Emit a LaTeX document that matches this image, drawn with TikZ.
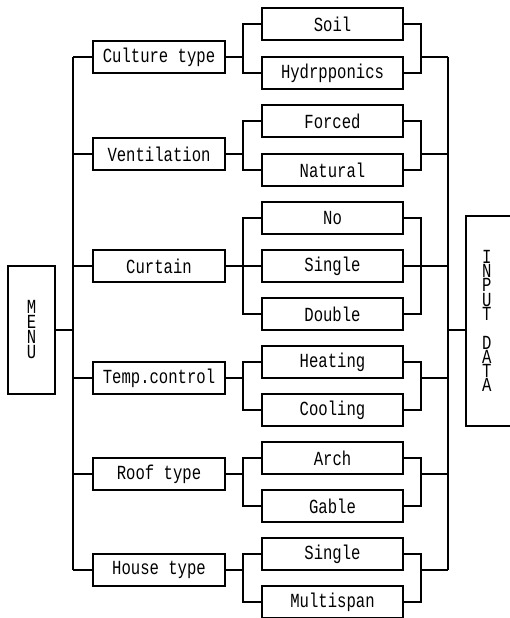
\documentclass[tikz,border=0pt]{standalone}
\usepackage{fontspec}
\newfontfamily\chartfont[FakeStretch=0.78]{Liberation Mono}
\begin{document}
\begin{tikzpicture}[x=1pt,y=-1pt,line width=1.1pt,
	every node/.style={font=\chartfont\fontsize{20}{15}\selectfont,inner sep=0pt},
	itembox/.style={draw,minimum width=132,minimum height=32},
	optbox/.style={draw,minimum width=141,minimum height=32},
	sidebox/.style={draw,align=center}]
	\useasboundingbox (0,0) rectangle (510,618);
	\coordinate (ltrunk) at (73,0);
	\coordinate (lbrace) at (243,0);
	\coordinate (rbrace) at (421,0);
	\coordinate (rtrunk) at (448,0);
	\node[sidebox,minimum width=47,minimum height=128] (menu) at (31.5,330) {M\\E\\N\\U};
	\node[draw,minimum height=210,text width=32,inner xsep=16,align=left,
		font=\chartfont\fontsize{20}{14.3}\selectfont] (input) at (498,321)
		{I\\N\\P\\U\\T\\\mbox{}\\D\\A\\T\\A};
	\node[itembox] (culture) at (159,57) {Culture type};
	\node[itembox] (ventil) at (159,154) {Ventilation};
	\node[itembox] (curtain) at (159,266) {Curtain};
	\node[itembox] (temp) at (159,378) {Temp.control};
	\node[itembox] (roof) at (159,474) {Roof type};
	\node[itembox] (house) at (159,570) {House type};
	\node[optbox] (soil) at (332.5,24) {Soil};
	\node[optbox] (hydro) at (332.5,73) {Hydrpponics};
	\node[optbox] (forced) at (332.5,121) {Forced};
	\node[optbox] (natural) at (332.5,170) {Natural};
	\node[optbox] (no) at (332.5,218) {No};
	\node[optbox] (single) at (332.5,266) {Single};
	\node[optbox] (double) at (332.5,314) {Double};
	\node[optbox] (heating) at (332.5,362) {Heating};
	\node[optbox] (cooling) at (332.5,410) {Cooling};
	\node[optbox] (arch) at (332.5,458) {Arch};
	\node[optbox] (gable) at (332.5,506) {Gable};
	\node[optbox] (hsingle) at (332.5,554) {Single};
	\node[optbox] (multispan) at (332.5,602) {Multispan};
	\draw (culture.west -| ltrunk) -- (house.west -| ltrunk);
	\draw (culture.east -| rtrunk) -- (house.east -| rtrunk);
	\draw (menu.east) -- (menu.east -| ltrunk);
	\draw (menu.east -| rtrunk) -- (menu.east -| input.west);
	\foreach \parent/\first/\last in {culture/soil/hydro,ventil/forced/natural,
		curtain/no/double,temp/heating/cooling,roof/arch/gable,house/hsingle/multispan}
	{
		\draw (\parent.west) -- (\parent.west -| ltrunk);
		\draw (\parent.east) -- (\parent.east -| lbrace);
		\draw (\first.west) -- (\first.west -| lbrace) -- (\last.west -| lbrace) -- (\last.west);
		\draw (\first.east) -- (\first.east -| rbrace) -- (\last.east -| rbrace) -- (\last.east);
		\draw (\parent.east -| rbrace) -- (\parent.east -| rtrunk);
	}
	\draw (single.west) -- (single.west -| lbrace);
	\draw (single.east) -- (single.east -| rbrace);
\end{tikzpicture}
\end{document}
